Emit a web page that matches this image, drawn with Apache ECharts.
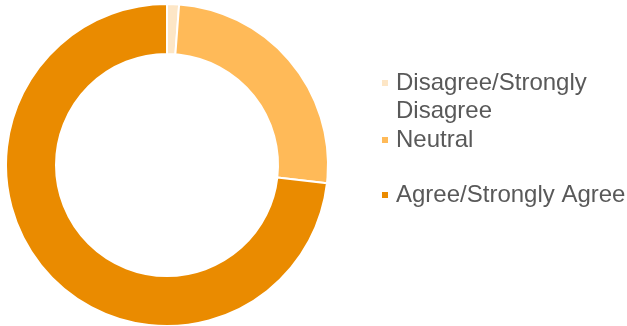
<!DOCTYPE html>
<html>
<head>
<meta charset="utf-8">
<style>
  html, body { margin: 0; padding: 0; background: #fff; }
  #chart { width: 627px; height: 326px; }
</style>
<script src="https://cdn.jsdelivr.net/npm/echarts@6/dist/echarts.min.js"></script>
</head>
<body>
<div id="chart"></div>
<script>
// Response shares (%)
const categories = ['Disagree/Strongly Disagree', 'Neutral', 'Agree/Strongly Agree'];
const shares = [1.2, 25.6, 73.2];
const colors = ['#FDE6C6', '#FFBA58', '#EA8B00'];

const chart = echarts.init(document.getElementById('chart'));

const legendTops = [41, 126, 181];
const legends = categories.map((name, i) => ({
  data: [name],
  left: 380,
  top: legendTops[i],
  orient: 'vertical',
  padding: 0,
  itemWidth: 8,
  itemHeight: 8,
  icon: 'rect',
  selectedMode: false,
  formatter: n => n === categories[0] ? '\nDisagree/Strongly\nDisagree' : n,
  textStyle: {
    fontFamily: 'Liberation Sans, Arial, sans-serif',
    fontSize: 24,
    lineHeight: 28,
    color: '#595959',
    padding: [0, 0, 0, 2]
  }
}));

chart.setOption({
  animation: false,
  legend: legends,
  series: [{
    type: 'pie',
    center: [167, 165],
    radius: [111, 161],
    startAngle: 90,
    clockwise: true,
    label: { show: false },
    labelLine: { show: false },
    emphasis: { disabled: true },
    itemStyle: { borderColor: '#ffffff', borderWidth: 2 },
    data: categories.map((name, i) => ({
      name,
      value: shares[i],
      itemStyle: { color: colors[i] }
    }))
  }]
});
</script>
</body>
</html>
